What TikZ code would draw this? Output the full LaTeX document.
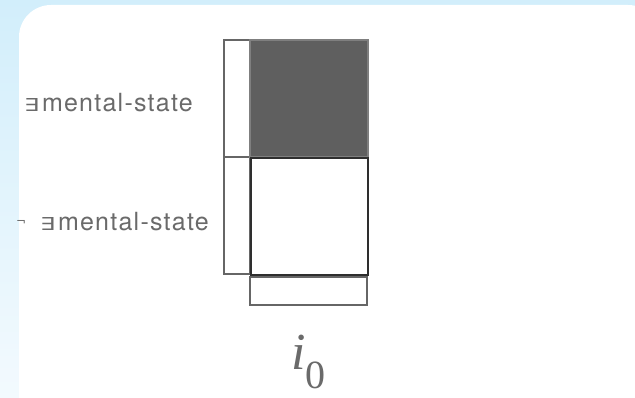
\documentclass[tikz,border=0pt]{standalone}
\usepackage{fontspec}
\usepackage{graphicx}
\setmainfont{TeX Gyre Heros}[LetterSpace=5]
\newfontfamily\serifit{Liberation Serif}
\newfontfamily\djv{DejaVu Sans}
\newcommand{\myex}{\resizebox{15pt}{13pt}{\djv ∃}\hspace{3pt}}
\newcommand{\myneg}{\raisebox{5pt}{\resizebox{10pt}{!}{\djv ¬}}}
\begin{document}
\begin{tikzpicture}[x=1pt,y=-1pt,
  lbl/.style={text=txtgray,inner sep=0pt,anchor=base east,font=\fontsize{25}{30}\selectfont},
  cell/.style={draw=linegray,line width=1.4pt,inner sep=0pt,outer sep=0pt,anchor=north west},
]
\definecolor{txtgray}{HTML}{6A6A6A}
\definecolor{linegray}{HTML}{666666}
\definecolor{darkfill}{HTML}{5F5F5F}
\definecolor{bgtop}{HTML}{D2EEFB}
\definecolor{bgbot}{HTML}{F3FAFE}
\useasboundingbox (0,0) rectangle (635,398);
\shade[top color=bgtop,bottom color=bgbot] (0,0) rectangle (635,398);
\fill[white] (19,5) [rounded corners=32pt] -- (660,5) -- (660,420) -- (19,420) -- cycle;
\fill[white] (19,35) rectangle (40,398);
% cells
\node[cell,minimum width=26pt,minimum height=117pt] (c1) at (224,40) {};
\node[cell,minimum width=26pt,minimum height=117pt] (c2) at (224,157) {};
\node[cell,fill=darkfill,draw=darkfill!80!white,minimum width=118pt,minimum height=117pt] (d) at (250,40) {};
\node[cell,draw=black!82,line width=1.8pt,minimum width=117pt,minimum height=117pt] (w) at (251,158) {};
\node[cell,minimum width=117pt,minimum height=28pt] (b) at (250,277) {};
% labels
\node[lbl] (l1) at (193,112) {\myex mental-state};
\node[lbl] (l2) at (209,231) {\myneg\hspace{14pt}\myex mental-state};
\node[text=txtgray,inner sep=0pt,anchor=base west] (i0) at (291,369) {\fontsize{52}{56}\serifit\itshape i\raisebox{-19pt}{\fontsize{40}{44}\selectfont\upshape 0}};
\end{tikzpicture}
\end{document}
